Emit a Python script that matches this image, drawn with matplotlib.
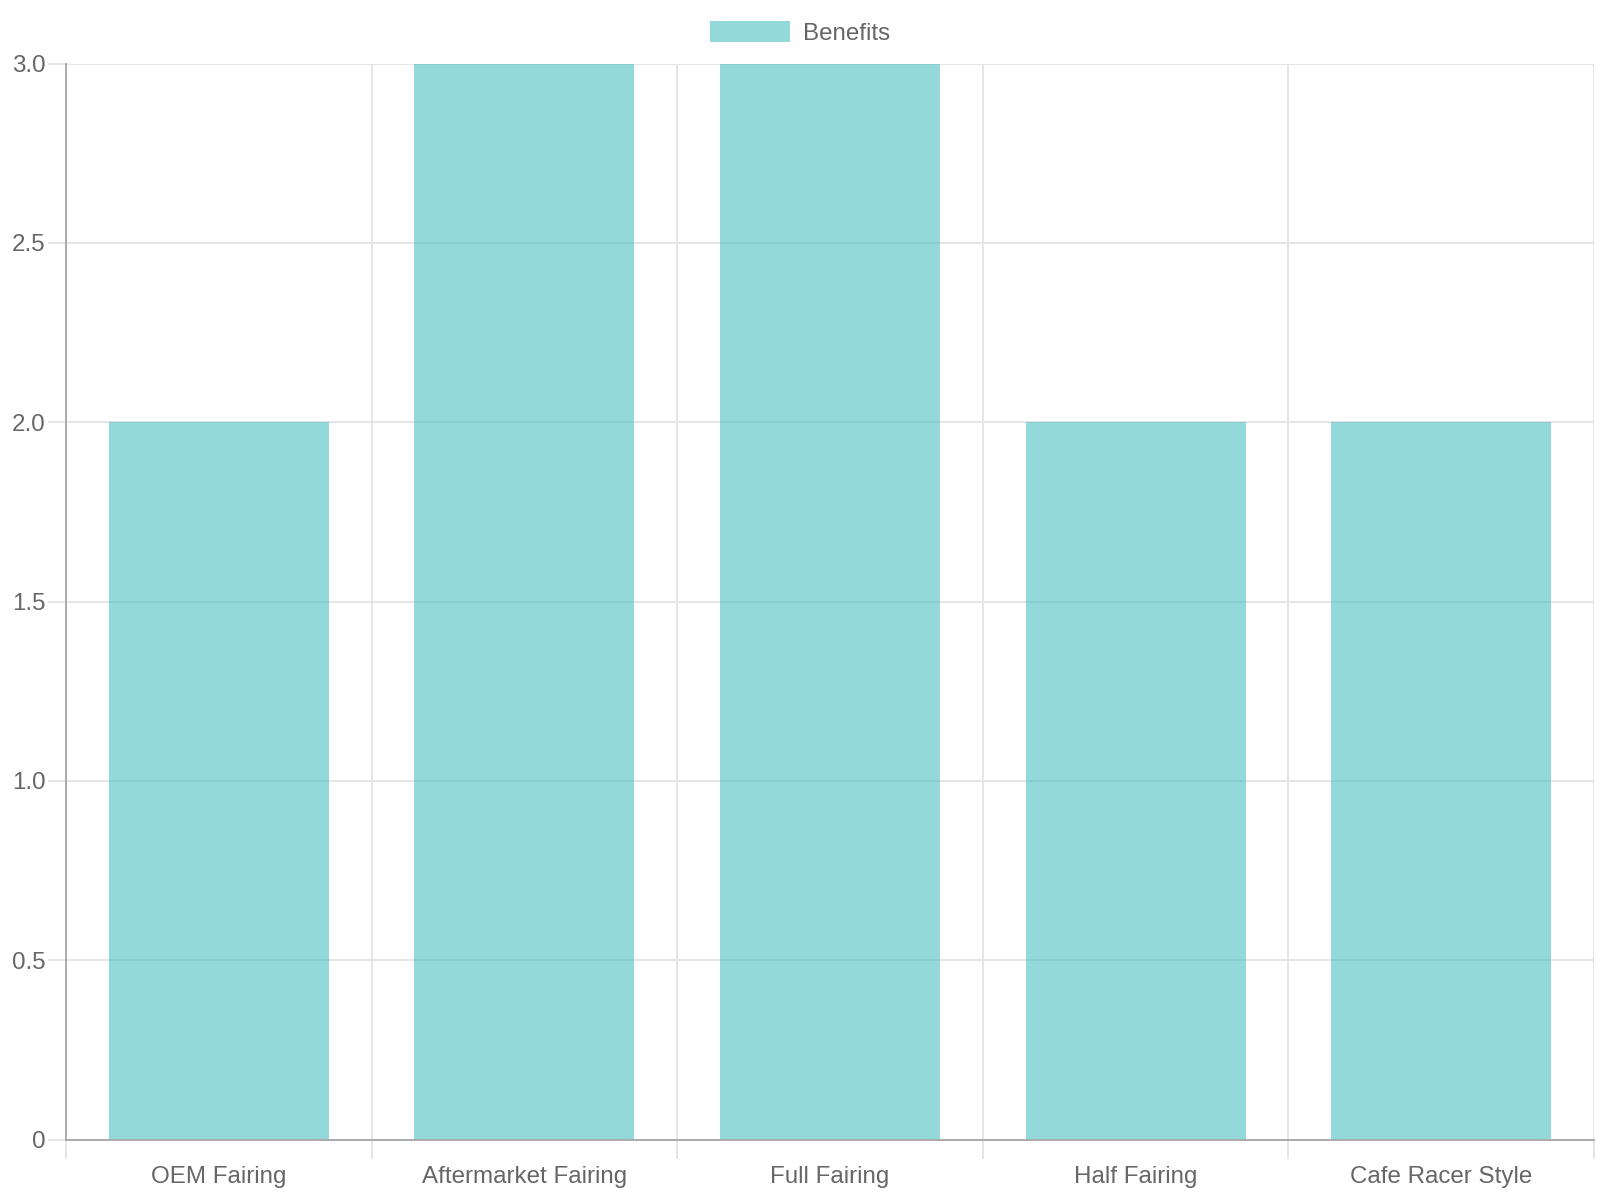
import numpy as np
import matplotlib.pyplot as plt
from matplotlib.ticker import FixedLocator

plt.rcParams['font.family'] = ['Liberation Sans', 'DejaVu Sans']

categories = ["OEM Fairing", "Aftermarket Fairing", "Full Fairing", "Half Fairing", "Cafe Racer Style"]
benefits = [2, 3, 3, 2, 2]
series_name = "Benefits"
y_ticks = [0, 0.5, 1.0, 1.5, 2.0, 2.5, 3.0]
y_ticklabels = ['0', '0.5', '1.0', '1.5', '2.0', '2.5', '3.0']

text_col = '#666666'
grid_col = '#e5e5e5'
axis_col = '#aaaaaa'

fig = plt.figure(figsize=(16, 12), dpi=100)
ax = fig.add_axes([66/1600, 1 - 1139.5/1200, (1594-66)/1600, (1139.5-63.5)/1200])

x = np.arange(len(categories))
ax.bar(x, benefits, width=0.72, color='#4bc0c0', alpha=0.6, label=series_name, zorder=2)

ax.set_xlim(-0.5, len(categories) - 0.5)
ax.set_ylim(0, 3)

## ticks and grid
ax.set_xticks(x)
ax.set_xticklabels(categories)
ax.xaxis.set_minor_locator(FixedLocator(np.arange(-0.5, len(categories), 1.0)))
ax.set_yticks(y_ticks)
ax.set_yticklabels(y_ticklabels)

ax.tick_params(axis='x', which='major', length=0, pad=19, labelsize=17.4, labelcolor=text_col)
ax.tick_params(axis='x', which='minor', length=14, width=1.4, color=grid_col)
ax.tick_params(axis='y', length=13, width=1.4, color=grid_col, pad=2, labelsize=17.4, labelcolor=text_col)

ax.grid(True, axis='x', which='minor', color=grid_col, linewidth=1.4, zorder=0)
ax.grid(True, axis='y', which='major', color=grid_col, linewidth=1.4, zorder=0)
ax.set_axisbelow(True)

for side in ['top', 'right']:
    ax.spines[side].set_visible(False)
for side in ['left', 'bottom']:
    ax.spines[side].set_color(axis_col)
    ax.spines[side].set_linewidth(1.4)

fig.legend(loc='center', bbox_to_anchor=(0.5, 1 - 33/1200), frameon=False,
           fontsize=17.4, labelcolor=text_col, handlelength=3.3, handleheight=0.95,
           handletextpad=0.55)

plt.savefig("out.png", dpi=100)
